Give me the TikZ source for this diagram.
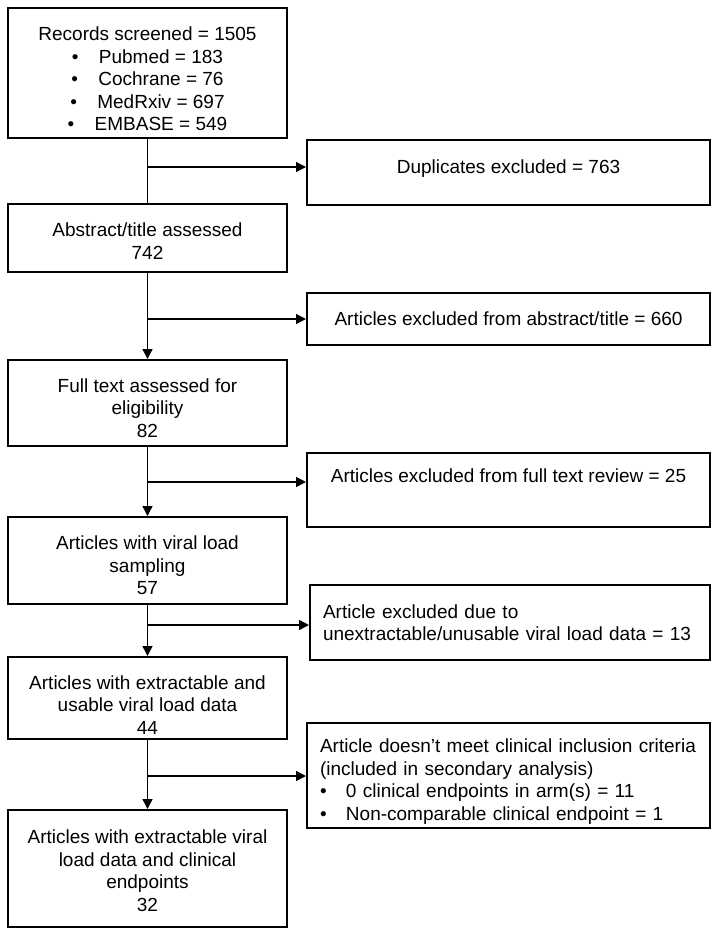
\documentclass[tikz,border=0pt]{standalone}
\usepackage{fontspec}
\setmainfont{Liberation Sans}
\usetikzlibrary{arrows.meta}
\newcommand\tdrop[1]{\rule{0pt}{#1}}

\begin{document}
\begin{tikzpicture}[x=1pt,y=-1pt,
    box/.style={draw,line width=2pt,inner sep=0pt,font=\fontsize{19}{22.5}\selectfont},
    leftbox/.style={box,align=center,minimum width=279pt},
    rightbox/.style={box,align=center,minimum width=403pt},
    listbox/.style={box,align=left,inner xsep=13pt},
    link/.style={line width=1.5pt},
    >={Triangle[length=10pt,width=10pt]}]
    \useasboundingbox[fill=white](0,0)rectangle(716,935);
    % main column
    \node[leftbox,minimum height=130pt](rec) at (147.5,73){\tdrop{25.9pt}Records screened = 1505\\
        \makebox[27pt][l]{\textbullet}Pubmed = 183\\
        \makebox[27pt][l]{\textbullet}Cochrane = 76\\
        \makebox[27pt][l]{\textbullet}MedRxiv = 697\\
        \makebox[27pt][l]{\textbullet}EMBASE = 549};
    \node[leftbox,minimum height=68pt](abs) at (147.5,238){\tdrop{19.9pt}Abstract/title assessed\\742};
    \node[leftbox,minimum height=86pt](full) at (147.5,403){\tdrop{23.9pt}Full text assessed for\\eligibility\\82};
    \node[leftbox,minimum height=87pt](samp) at (147.5,560.5){\tdrop{23.9pt}Articles with viral load\\sampling\\57};
    \node[leftbox,minimum height=82pt](extr) at (147.5,698){\tdrop{27.9pt}Articles with extractable and\\usable viral load data\\44};
    \node[leftbox,minimum height=117pt](fin) at (147.5,868.5){\tdrop{17.9pt}Articles with extractable viral\\load data and clinical\\endpoints\\32};
    % excluded column
    \node[rightbox,anchor=north,text height=33.6pt,text depth=31.4pt](dup) at (508.5,139){Duplicates excluded = 763};
    \node[rightbox,minimum height=52pt](exabs) at (508.5,319){Articles excluded from abstract/title = 660};
    \node[rightbox,anchor=north,text height=29.6pt,text depth=44.4pt](exfull) at (508.5,452){Articles excluded from full text review = 25};
    \node[listbox,text width=374pt,minimum height=75pt](exdata) at (510,622.5){Article excluded due to\\unextractable/unusable viral load data = 13};
    \node[listbox,text width=377pt,minimum height=105pt](excl) at (508.5,775.5){\tdrop{25.9pt}Article doesn't meet clinical inclusion criteria\\
        (included in secondary analysis)\\
        \makebox[26pt][l]{\textbullet}0 clinical endpoints in arm(s) = 11\\
        \makebox[26pt][l]{\textbullet}Non-comparable clinical endpoint = 1};
    % connectors
    \coordinate(j1) at (147.5,167);
    \coordinate(j2) at (147.5,319);
    \coordinate(j3) at (147.5,482);
    \coordinate(j4) at (147.5,625);
    \coordinate(j5) at (147.5,776);
    \draw[link](rec.south)--(abs.north);
    \draw[link,->](abs.south)--(full.north);
    \draw[link,->](full.south)--(samp.north);
    \draw[link,->](samp.south)--(extr.north);
    \draw[link,->](extr.south)--(fin.north);
    \draw[link,->](j1)--(j1-|dup.west);
    \draw[link,->](j2)--(j2-|exabs.west);
    \draw[link,->](j3)--(j3-|exfull.west);
    \draw[link,->](j4)--(j4-|exdata.west);
    \draw[link,->](j5)--(j5-|excl.west);
\end{tikzpicture}
\end{document}
